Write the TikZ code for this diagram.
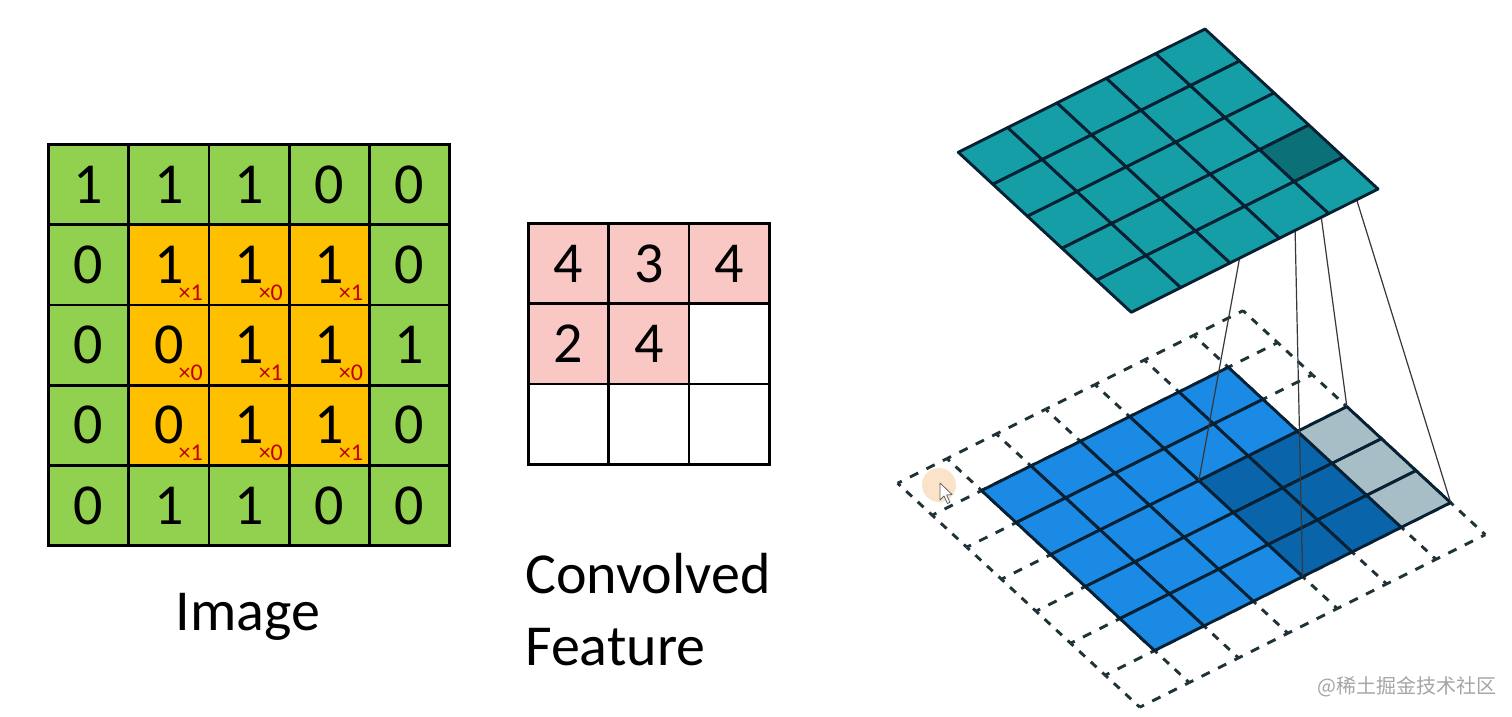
\documentclass[tikz,border=0pt]{standalone}
\usepackage{fontspec}
\setmainfont{Carlito}
\newfontfamily\cjkfont{Noto Sans CJK SC}
\usetikzlibrary{calc}
\definecolor{cgreen}{RGB}{146,208,80}
\definecolor{corange}{RGB}{255,192,0}
\definecolor{cred}{RGB}{192,0,0}
\definecolor{cpink}{RGB}{250,200,196}
\definecolor{cteal}{RGB}{22,158,166}
\definecolor{cdteal}{RGB}{12,112,120}
\definecolor{cblue}{RGB}{26,138,228}
\definecolor{cdblue}{RGB}{10,100,170}
\definecolor{cgray}{RGB}{168,190,198}
\definecolor{cgrid}{RGB}{6,32,52}
\definecolor{cdash}{RGB}{30,50,56}
\definecolor{cproj}{RGB}{55,55,60}
\definecolor{cwm}{RGB}{165,165,165}
\definecolor{ccursor}{RGB}{250,224,196}
\tikzset{
 imgcell/.style={draw=black, line width=2.8pt, minimum size=80.2pt, inner sep=0pt},
 digit/.style={inner sep=0pt, font=\fontsize{58}{60}\selectfont},
 subscr/.style={text=cred, inner sep=0pt, font=\fontsize{24}{26}\selectfont},
 lbl/.style={inner sep=0pt, font=\fontsize{58}{60}\selectfont},
 gridcell/.style={draw=cgrid, line width=2.9pt, line join=round},
 dashA/.style={draw=cdash, line width=2.9pt, dash pattern=on 7.85pt off 7.85pt, dash phase=3.93pt},
 dashB/.style={draw=cdash, line width=2.9pt, dash pattern=on 9.19pt off 9.19pt, dash phase=4.6pt},
 proj/.style={draw=cproj, line width=1.2pt},
}
\begin{document}
\begin{tikzpicture}[x=1pt,y=-1pt]
\useasboundingbox (0,0) rectangle (1512,716);
\fill[white] (0,0) rectangle (1512,716);
% ---------- Image grid ----------
\def\LX{48.5}\def\LY{144.5}\def\S{80.2}
\foreach \row [count=\r from 0] in {{1,1,1,0,0},{0,1,1,1,0},{0,0,1,1,1},{0,0,1,1,0},{0,1,1,0,0}} {
  \foreach \v [count=\c from 0] in \row {
    \def\cc{cgreen}
    \ifnum\r>0 \ifnum\r<4 \ifnum\c>0 \ifnum\c<4 \def\cc{corange}\fi\fi\fi\fi
    \node[imgcell, fill=\cc] (img-\r-\c) at ({\LX+(\c+0.5)*\S},{\LY+(\r+0.5)*\S}) {};
    \node[digit] (imgv-\r-\c) at (img-\r-\c.center) {\v};
  }
}
\foreach \row [count=\r from 1] in {{1,0,1},{0,1,0},{1,0,1}} {
  \foreach \w [count=\c from 1] in \row {
    \node[subscr, anchor=base east] (sub-\r-\c) at ({\LX+(\c+1)*\S-6},{\LY+(\r+1)*\S-4.5}) {×\w};
  }
}
% ---------- Convolved feature grid ----------
\def\MX{528.5}\def\MY{223.5}
\foreach \row [count=\r from 0] in {{4,3,4},{2,4,-},{-,-,-}} {
  \foreach \v [count=\c from 0] in \row {
    \if\v-
      \node[imgcell, fill=white] (cf-\r-\c) at ({\MX+(\c+0.5)*\S},{\MY+(\r+0.5)*\S}) {};
    \else
      \node[imgcell, fill=cpink] (cf-\r-\c) at ({\MX+(\c+0.5)*\S},{\MY+(\r+0.5)*\S}) {};
      \node[digit] (cfv-\r-\c) at (cf-\r-\c.center) {\v};
    \fi
  }
}
% ---------- labels ----------
\node[lbl, anchor=base] (image-lbl) at (248,630) {Image};
\node[lbl, anchor=base west] (conv-lbl) at (525,593) {Convolved};
\node[lbl, anchor=base west] (feat-lbl) at (525,665) {Feature};
% ---------- bottom (input) layer ----------
\foreach \k in {0,...,7} {
  \foreach \l in {0,...,7} {
    \coordinate (bp-\k-\l) at ({1243.05+\k*34.6-\l*49.35},{310.65+\k*32+\l*24.65});
  }
}
\foreach \k in {0,...,5} {
  \foreach \l in {0,...,5} {
    \coordinate (tp-\k-\l) at ({1205+\k*34.6-\l*49.35},{29+\k*32+\l*24.65});
  }
}
% dashed padding grid
\foreach \k in {0,...,7} {
  \foreach \l [evaluate=\l as \ln using int(\l+1)] in {0,...,6} {
    \draw[dashB] (bp-\k-\l) -- (bp-\k-\ln);
  }
}
\foreach \l in {0,...,7} {
  \foreach \k [evaluate=\k as \kn using int(\k+1)] in {0,...,6} {
    \draw[dashA] (bp-\k-\l) -- (bp-\kn-\l);
  }
}
% blue input cells
\foreach \k [evaluate=\k as \kn using int(\k+1)] in {1,...,5} {
  \foreach \l [evaluate=\l as \ln using int(\l+1)] in {1,...,5} {
    \def\cc{cblue}
    \ifnum\k>2 \ifnum\l<3 \def\cc{cdblue}\fi\fi
    \filldraw[gridcell, fill=\cc] (bp-\k-\l) -- (bp-\kn-\l) -- (bp-\kn-\ln) -- (bp-\k-\ln) -- cycle;
  }
}
% gray padding cells under the kernel
\foreach \k [evaluate=\k as \kn using int(\k+1)] in {3,4,5} {
  \filldraw[gridcell, fill=cgray] (bp-\k-0) -- (bp-\kn-0) -- (bp-\kn-1) -- (bp-\k-1) -- cycle;
}
% projection lines
\draw[proj] (tp-3-0) -- (bp-3-0);
\draw[proj] (tp-4-0) -- (bp-6-0);
\draw[proj] (tp-3-1) -- (bp-3-3);
\draw[proj] (tp-4-1) -- (bp-6-3);
% ---------- top (output) layer ----------
\foreach \k [evaluate=\k as \kn using int(\k+1)] in {0,...,4} {
  \foreach \l [evaluate=\l as \ln using int(\l+1)] in {0,...,4} {
    \def\cc{cteal}
    \ifnum\k=3 \ifnum\l=0 \def\cc{cdteal}\fi\fi
    \filldraw[gridcell, fill=\cc] (tp-\k-\l) -- (tp-\kn-\l) -- (tp-\kn-\ln) -- (tp-\k-\ln) -- cycle;
  }
}
% ---------- cursor ----------
\fill[ccursor, opacity=0.9] (939,485) circle (17);
\filldraw[fill=white, draw=black!60, line width=0.8pt, line join=round]
  (940,483) -- (940,500) -- (944,496) -- (947.5,503.5) -- (950,502.3) -- (946.6,495) -- (952,494.5) -- cycle;
% ---------- watermark ----------
\node[anchor=east, inner sep=0pt, text=cwm, font=\cjkfont\fontsize{20}{22}\selectfont] (wm) at (1497,687) {@稀土掘金技术社区};
\end{tikzpicture}
\end{document}
